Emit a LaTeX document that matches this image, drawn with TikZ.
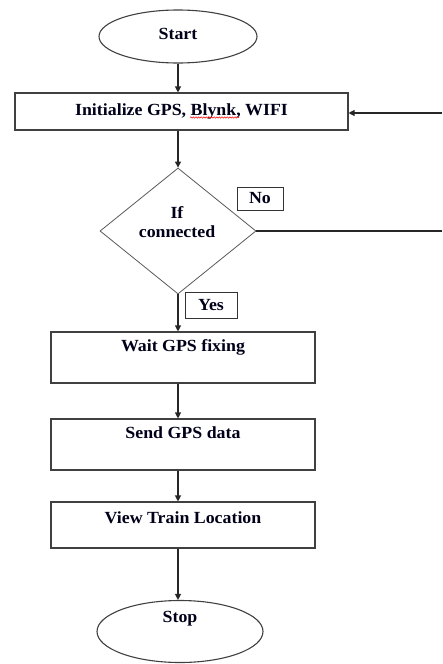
\documentclass[tikz,border=0pt]{standalone}
\usepackage{fontspec}
\setmainfont{Liberation Serif}[FakeStretch=1.05]
\usetikzlibrary{shapes.geometric,arrows.meta,decorations.pathmorphing}
\begin{document}
\begin{tikzpicture}[x=1pt,y=-1pt,
    >={Triangle[length=6pt,width=6pt]},
    every node/.style={font=\fontsize{17}{19}\selectfont\bfseries,text=black!90!blue},
    terminal/.style={ellipse,draw=black!75,line width=1.1pt,inner sep=0pt},
    procbox/.style={rectangle,draw=black!75,line width=1.1pt,inner xsep=0pt,
      inner ysep=4pt,minimum width=264pt},
    tagbox/.style={rectangle,draw=black!80,line width=1pt,inner sep=0pt},
    flow/.style={draw=black!85,line width=1.1pt}]
  \useasboundingbox (0,0) rectangle (442,664);

  \node[terminal,minimum width=158pt,minimum height=53pt,
    text height=12pt,text depth=7pt] (start) at (178,36.5) {Start};
  \node[procbox,minimum width=333pt,minimum height=37pt] (init)
    at (181.5,111.5) {Initialize GPS, Blynk, WIFI};
  \draw[red,line width=0.5pt,decorate,
    decoration={snake,amplitude=0.7pt,segment length=2.6pt}]
    (190,117.5) -- (239,117.5);

  \node[diamond,draw=black!65,line width=0.8pt,inner sep=0pt,
    minimum width=156pt,minimum height=126pt] (cond) at (178,231) {};
  \node[align=center,inner sep=0pt] (condtxt) at (177,222) {If\\connected};
  \node[tagbox,minimum width=46pt,minimum height=23pt] (no) at (260,198.5) {No};
  \node[tagbox,minimum width=52pt,minimum height=26pt] (yes) at (211,305) {Yes};

  \node[procbox,text height=15pt,text depth=28pt] (wait) at (183,357.5) {Wait GPS fixing};
  \node[procbox,text height=15pt,text depth=28pt] (send) at (183,444.5) {Send GPS data};
  \node[procbox,text height=17pt,text depth=21pt] (view) at (183,525) {View Train Location};
  \node[terminal,minimum width=166pt,minimum height=62pt,
    text height=12pt,text depth=30pt] (stop) at (180,631.5) {Stop};

  \coordinate (ne) at (442,113);
  \coordinate (se) at (442,230);

  \draw[flow,->] (start.south) -- (start.south |- init.north);
  \draw[flow,->] (cond.north |- init.south) -- (cond.north);
  \draw[flow,->] (cond.south) -- (cond.south |- wait.north);
  \draw[flow,->] (cond.south |- wait.south) -- (cond.south |- send.north);
  \draw[flow,->] (cond.south |- send.south) -- (cond.south |- view.north);
  \draw[flow,->] (cond.south |- view.south) -- (cond.south |- stop.north);
  \draw[flow] (cond.east) -- (cond.east -| se);
  \draw[flow,->] (ne) -- (ne -| init.east);
\end{tikzpicture}
\end{document}
